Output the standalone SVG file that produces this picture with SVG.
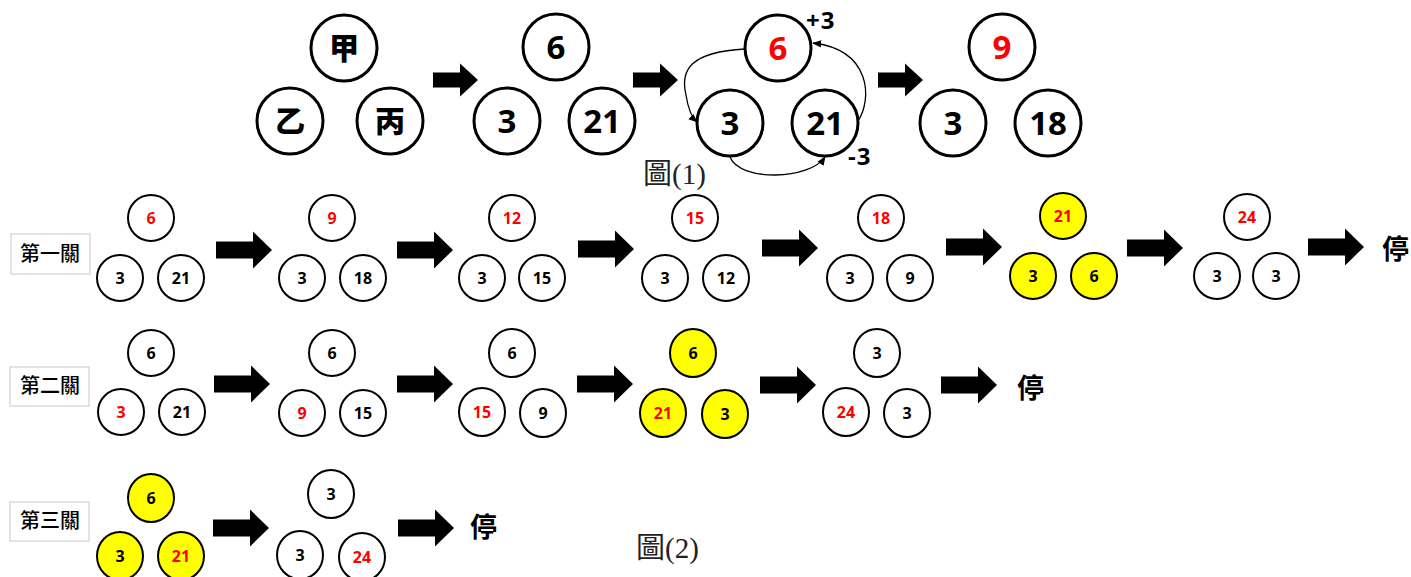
<svg xmlns="http://www.w3.org/2000/svg" width="1411" height="577" viewBox="0 0 1411 577">
<style>
.big{fill:#fff;stroke:#000;stroke-width:3}
.sm{fill:#fff;stroke:#000;stroke-width:2}
.y{fill:#ffff00}
.bt{font-family:"Open Sans","Noto Sans CJK TC",sans-serif;font-weight:bold;font-size:33px;text-anchor:middle}
.ck{font-family:"Noto Sans CJK TC",sans-serif;font-weight:900;font-size:30px;text-anchor:middle}
.st{font-family:"Open Sans",sans-serif;font-weight:bold;font-size:16px;text-anchor:middle}
.r{fill:#ff0000}
.lbl{fill:#fff;stroke:#c8c8c8;stroke-width:1}
.lt{font-family:"Noto Sans CJK TC",sans-serif;font-weight:500;font-size:20px;text-anchor:middle}
.stop{font-family:"Noto Sans CJK TC",sans-serif;font-weight:bold;font-size:27px}
.cap{font-family:"Liberation Serif","Noto Sans CJK TC",serif;font-size:29px;fill:#222}
.pm{font-family:"Open Sans",sans-serif;font-weight:bold;font-size:24px;letter-spacing:1px}
.cv{fill:none;stroke:#000;stroke-width:1.3}
</style>
<defs>
<path id="arr" d="M0,-8.5 H37 V-18.5 L56,0 L37,18.5 V8.5 H0 Z" fill="#000"/>
<path id="arrT" d="M0,-7.5 H27 V-16.5 L45,0 L27,16.5 V7.5 H0 Z" fill="#000"/>
<marker id="ah" viewBox="0 0 10 10" refX="9" refY="5" markerWidth="7" markerHeight="7" orient="auto"><path d="M0,1 L10,5 L0,9 Z" fill="#000"/></marker>
</defs>

<g id="top-start">
<circle class="big" cx="344" cy="48" r="33"/><text class="ck" x="344" y="59">甲</text>
<circle class="big" cx="290" cy="121" r="33"/><text class="ck" x="290" y="132">乙</text>
<circle class="big" cx="390" cy="121" r="33"/><text class="ck" x="390" y="132">丙</text>
</g>
<g id="top-s1">
<circle class="big" cx="556" cy="47" r="33"/><text class="bt" x="556" y="59">6</text>
<circle class="big" cx="507" cy="121" r="33"/><text class="bt" x="507" y="133">3</text>
<circle class="big" cx="602" cy="121" r="33"/><text class="bt" x="602" y="133">21</text>
</g>
<g id="top-s2">
<circle class="big" cx="778" cy="48" r="33"/><text class="bt r" x="778" y="60">6</text>
<circle class="big" cx="730" cy="123" r="33"/><text class="bt" x="730" y="135">3</text>
<circle class="big" cx="825" cy="123" r="33"/><text class="bt" x="825" y="135">21</text>
<text class="pm" x="806" y="29">+3</text>
<text class="pm" x="848" y="165">-3</text>
</g>
<g id="top-s3">
<circle class="big" cx="1002" cy="47" r="33"/><text class="bt r" x="1002" y="59">9</text>
<circle class="big" cx="953" cy="123" r="33"/><text class="bt" x="953" y="135">3</text>
<circle class="big" cx="1048" cy="123" r="33"/><text class="bt" x="1048" y="135">18</text>
</g>
<text id="cap1" class="cap" x="643" y="184">圖(1)</text>

<g id="row1-label"><rect class="lbl" x="11" y="234" width="79" height="40"/><text class="lt" x="50" y="261">第一關</text></g>
<g id="row2-label"><rect class="lbl" x="10" y="367" width="79" height="39"/><text class="lt" x="50" y="393">第二關</text></g>
<g id="row3-label"><rect class="lbl" x="10" y="502" width="79" height="39"/><text class="lt" x="50" y="528">第三關</text></g>

<g id="r1-g1"><circle class="sm" cx="151" cy="218" r="23"/><text class="st r" x="151" y="224">6</text>
<circle class="sm" cx="120" cy="278" r="23"/><text class="st" x="120" y="284">3</text>
<circle class="sm" cx="181" cy="278" r="23"/><text class="st" x="181" y="284">21</text></g>
<g id="r1-g2"><circle class="sm" cx="332" cy="218" r="23"/><text class="st r" x="332" y="224">9</text>
<circle class="sm" cx="302" cy="278" r="23"/><text class="st" x="302" y="284">3</text>
<circle class="sm" cx="363" cy="278" r="23"/><text class="st" x="363" y="284">18</text></g>
<g id="r1-g3"><circle class="sm" cx="512" cy="218" r="23"/><text class="st r" x="512" y="224">12</text>
<circle class="sm" cx="482" cy="278" r="23"/><text class="st" x="482" y="284">3</text>
<circle class="sm" cx="542" cy="278" r="23"/><text class="st" x="542" y="284">15</text></g>
<g id="r1-g4"><circle class="sm" cx="695" cy="218" r="23"/><text class="st r" x="695" y="224">15</text>
<circle class="sm" cx="665" cy="278" r="23"/><text class="st" x="665" y="284">3</text>
<circle class="sm" cx="726" cy="278" r="23"/><text class="st" x="726" y="284">12</text></g>
<g id="r1-g5"><circle class="sm" cx="881" cy="218" r="23"/><text class="st r" x="881" y="224">18</text>
<circle class="sm" cx="850" cy="278" r="23"/><text class="st" x="850" y="284">3</text>
<circle class="sm" cx="910" cy="278" r="23"/><text class="st" x="910" y="284">9</text></g>
<g id="r1-g6"><circle class="sm y" cx="1063" cy="216" r="23"/><text class="st r" x="1063" y="222">21</text>
<circle class="sm y" cx="1033" cy="276" r="23"/><text class="st" x="1033" y="282">3</text>
<circle class="sm y" cx="1094" cy="276" r="23"/><text class="st" x="1094" y="282">6</text></g>
<g id="r1-g7"><circle class="sm" cx="1247" cy="217" r="23"/><text class="st r" x="1247" y="223">24</text>
<circle class="sm" cx="1217" cy="276" r="23"/><text class="st" x="1217" y="282">3</text>
<circle class="sm" cx="1276" cy="276" r="23"/><text class="st" x="1276" y="282">3</text></g>
<text id="r1-stop" class="stop" x="1382" y="259">停</text>

<g id="r2-g1"><circle class="sm" cx="151" cy="353" r="23"/><text class="st" x="151" y="359">6</text>
<circle class="sm" cx="121" cy="412" r="23"/><text class="st r" x="121" y="418">3</text>
<circle class="sm" cx="182" cy="412" r="23"/><text class="st" x="182" y="418">21</text></g>
<g id="r2-g2"><circle class="sm" cx="332" cy="353" r="23"/><text class="st" x="332" y="359">6</text>
<circle class="sm" cx="302" cy="413" r="23"/><text class="st r" x="302" y="419">9</text>
<circle class="sm" cx="363" cy="413" r="23"/><text class="st" x="363" y="419">15</text></g>
<g id="r2-g3"><ellipse class="sm" cx="512" cy="353" rx="23" ry="24"/><text class="st" x="512" y="359">6</text>
<ellipse class="sm" cx="482" cy="412" rx="23" ry="24"/><text class="st r" x="482" y="418">15</text>
<ellipse class="sm" cx="543" cy="413" rx="23" ry="24"/><text class="st" x="543" y="419">9</text></g>
<g id="r2-g4"><ellipse class="sm y" cx="693" cy="353" rx="23" ry="24"/><text class="st" x="693" y="359">6</text>
<ellipse class="sm y" cx="663" cy="413" rx="23" ry="24"/><text class="st r" x="663" y="419">21</text>
<ellipse class="sm y" cx="725" cy="414" rx="23" ry="24"/><text class="st" x="725" y="420">3</text></g>
<g id="r2-g5"><ellipse class="sm" cx="877" cy="353" rx="23" ry="24"/><text class="st" x="877" y="359">3</text>
<ellipse class="sm" cx="846" cy="412" rx="23" ry="24"/><text class="st r" x="846" y="418">24</text>
<ellipse class="sm" cx="907" cy="413" rx="23" ry="24"/><text class="st" x="907" y="419">3</text></g>
<text id="r2-stop" class="stop" x="1017" y="398">停</text>

<g id="r3-g1"><ellipse class="sm y" cx="151" cy="498" rx="23" ry="24"/><text class="st" x="151" y="504">6</text>
<ellipse class="sm y" cx="120" cy="556" rx="23" ry="24"/><text class="st" x="120" y="562">3</text>
<ellipse class="sm y" cx="181" cy="556" rx="23" ry="24"/><text class="st r" x="181" y="562">21</text></g>
<g id="r3-g2"><ellipse class="sm" cx="331" cy="494" rx="23" ry="24"/><text class="st" x="331" y="500">3</text>
<ellipse class="sm" cx="300" cy="555" rx="23" ry="24"/><text class="st" x="300" y="561">3</text>
<ellipse class="sm" cx="362" cy="557" rx="23" ry="24"/><text class="st r" x="362" y="563">24</text></g>
<text id="r3-stop" class="stop" x="470" y="537">停</text>
<text id="cap2" class="cap" x="636" y="558">圖(2)</text>

<g id="connectors">
<use href="#arrT" x="433" y="80"/>
<use href="#arrT" x="633" y="80"/>
<use href="#arrT" x="878" y="80"/>
<path class="cv" marker-end="url(#ah)" d="M745,49 C690,52 680,70 686,95 Q689,115 697,122"/>
<path class="cv" marker-end="url(#ah)" d="M858,121 C872,100 872,50 813,43"/>
<path class="cv" marker-end="url(#ah)" d="M730,157 C740,182 810,180 825,157"/>
<use href="#arr" x="216" y="250"/>
<use href="#arr" x="397" y="250"/>
<use href="#arr" x="578" y="249"/>
<use href="#arr" x="762" y="248"/>
<use href="#arr" x="946" y="247"/>
<use href="#arr" x="1127" y="248"/>
<use href="#arr" x="1308" y="247"/>
<use href="#arr" x="214" y="384"/>
<use href="#arr" x="397" y="384"/>
<use href="#arr" x="577" y="384"/>
<use href="#arr" x="760" y="385"/>
<use href="#arr" x="941" y="385"/>
<use href="#arr" x="213" y="528"/>
<use href="#arr" x="398" y="528"/>
</g>
</svg>
